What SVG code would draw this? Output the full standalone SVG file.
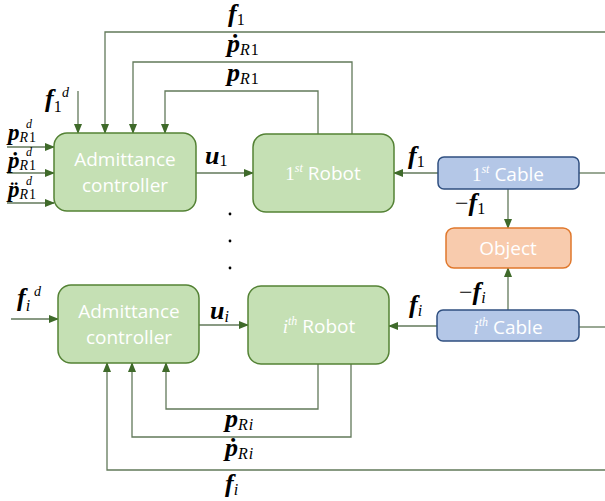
<svg xmlns="http://www.w3.org/2000/svg" width="605" height="501" viewBox="0 0 605 501">
  <style>
    .blk { fill: #c5e0b4; stroke: #548235; stroke-width: 1.5; }
    .cab { fill: #b4c7e7; stroke: #2f4f80; stroke-width: 1.5; }
    .obj { fill: #f8cbad; stroke: #e0782c; stroke-width: 1.5; }
    .lbl { font-family: "Open Sans", "Liberation Sans", sans-serif; font-size: 19px; fill: #ffffff; text-anchor: middle; }
    .ord { font-family: "Liberation Serif", serif; fill: #ffffff; }
    .it { font-style: italic; }
    .wire { fill: none; stroke: #62795a; stroke-width: 1.3; }
    .m { font-family: "Liberation Serif", serif; fill: #000000; }
    .b { font-weight: bold; font-style: italic; font-size: 26px; }
    .mn { font-size: 24px; }
    .s { font-style: italic; font-size: 16px; letter-spacing: 1px; }
    .u { font-style: normal; font-size: 16px; }
    .sup { font-style: italic; font-size: 14px; }
    /* tighter stack for the desired-trajectory inputs */
    .bs { font-weight: bold; font-style: italic; font-size: 23px; }
    .ss { font-style: italic; font-size: 14px; letter-spacing: 1px; }
    .us { font-style: normal; font-size: 14px; }
    .sups { font-style: italic; font-size: 12px; }
  </style>
  <defs>
    <marker id="arr" markerWidth="10" markerHeight="8" refX="9" refY="4" orient="auto" markerUnits="userSpaceOnUse">
      <path d="M0,0 L10,4 L0,8 Z" fill="#3f6a2a"/>
    </marker>
  </defs>

  <!-- connectors -->
  <g id="connectors" class="wire" marker-end="url(#arr)">
    <path d="M78,91 V133"/>
    <path d="M605,32 H105 V133"/>
    <path d="M352,134 V62 H133 V133"/>
    <path d="M318,134 V91 H165 V133"/>
    <path d="M7,147 H54"/>
    <path d="M7,173 H54"/>
    <path d="M7,203 H54"/>
    <path d="M196,173 H253"/>
    <path d="M438,173 H394"/>
    <path d="M579,173 H605" marker-end="none"/>
    <path d="M508,189 V228"/>
    <path d="M508,310 V268"/>
    <path d="M579,327 H605" marker-end="none"/>
    <path d="M437,326 H389"/>
    <path d="M199,325 H248"/>
    <path d="M11,319 H58"/>
    <path d="M318,364 V409 H166 V363"/>
    <path d="M351,364 V437 H132 V363"/>
    <path d="M605,470 H107 V363"/>
  </g>

  <!-- nodes -->
  <g id="admittance1">
    <rect class="blk" x="54" y="133" width="142" height="78" rx="13"/>
    <text class="lbl" x="125" y="166">Admittance</text>
    <text class="lbl" x="125" y="192">controller</text>
  </g>
  <g id="robot1">
    <rect class="blk" x="253" y="134" width="141" height="78" rx="13"/>
    <text class="lbl" x="323" y="180"><tspan class="ord">1<tspan class="it" font-size="12" dy="-8">st</tspan></tspan><tspan dy="8"> Robot</tspan></text>
  </g>
  <g id="cable1">
    <rect class="cab" x="438" y="157" width="141" height="32" rx="6"/>
    <text class="lbl" x="508" y="181"><tspan class="ord">1<tspan class="it" font-size="12" dy="-8">st</tspan></tspan><tspan dy="8"> Cable</tspan></text>
  </g>
  <g id="object">
    <rect class="obj" x="446" y="228" width="125" height="40" rx="8"/>
    <text class="lbl" x="508" y="255">Object</text>
  </g>
  <g id="admittancei">
    <rect class="blk" x="58" y="285" width="141" height="78" rx="13"/>
    <text class="lbl" x="129" y="318">Admittance</text>
    <text class="lbl" x="129" y="344">controller</text>
  </g>
  <g id="roboti">
    <rect class="blk" x="248" y="286" width="141" height="78" rx="13"/>
    <text class="lbl" x="319" y="333"><tspan class="ord it">i<tspan font-size="12" dy="-8">th</tspan></tspan><tspan dy="8"> Robot</tspan></text>
  </g>
  <g id="cablei">
    <rect class="cab" x="437" y="310" width="142" height="31" rx="6"/>
    <text class="lbl" x="508" y="334"><tspan class="ord it">i<tspan font-size="12" dy="-8">th</tspan></tspan><tspan dy="8"> Cable</tspan></text>
  </g>

  <!-- vertical ellipsis between robot rows -->
  <g id="ellipsis" fill="#000000">
    <circle cx="230" cy="214" r="1.4"/>
    <circle cx="230" cy="241" r="1.4"/>
    <circle cx="230" cy="268" r="1.4"/>
  </g>

  <!-- signal labels -->
  <g id="labels" class="m">
    <text x="228" y="22"><tspan class="b">f</tspan><tspan class="u" dy="3">1</tspan></text>
    <text x="227" y="52"><tspan class="b">ṗ</tspan><tspan class="s" dy="3">R</tspan><tspan class="u">1</tspan></text>
    <text x="227" y="81"><tspan class="b">p</tspan><tspan class="s" dy="3">R</tspan><tspan class="u">1</tspan></text>

    <text x="45" y="107"><tspan class="b">f</tspan><tspan class="u" dy="5">1</tspan></text>
    <text class="sup" x="62" y="97">d</text>

    <text x="8" y="140"><tspan class="bs">p</tspan><tspan class="ss" dy="2">R</tspan><tspan class="us">1</tspan></text>
    <text class="sups" x="26" y="128">d</text>
    <text x="8" y="168"><tspan class="bs">ṗ</tspan><tspan class="ss" dy="2">R</tspan><tspan class="us">1</tspan></text>
    <text class="sups" x="26" y="156">d</text>
    <text x="8" y="197"><tspan class="bs">p̈</tspan><tspan class="ss" dy="2">R</tspan><tspan class="us">1</tspan></text>
    <text class="sups" x="26" y="185">d</text>

    <text x="205" y="164"><tspan class="b">u</tspan><tspan class="u" dy="2">1</tspan></text>
    <text x="408" y="164"><tspan class="b">f</tspan><tspan class="u" dy="3">1</tspan></text>
    <text x="455" y="211"><tspan class="mn">−</tspan><tspan class="b">f</tspan><tspan class="u" dy="3">1</tspan></text>
    <text x="459" y="300"><tspan class="mn">−</tspan><tspan class="b">f</tspan><tspan class="s" dy="3">i</tspan></text>
    <text x="409" y="313"><tspan class="b">f</tspan><tspan class="s" dy="3">i</tspan></text>

    <text x="17" y="306"><tspan class="b">f</tspan><tspan class="s" dy="5">i</tspan></text>
    <text class="sup" x="34" y="296">d</text>
    <text x="210" y="319"><tspan class="b">u</tspan><tspan class="s" dy="3">i</tspan></text>

    <text x="225" y="427"><tspan class="b">p</tspan><tspan class="s" dy="3">Ri</tspan></text>
    <text x="225" y="456"><tspan class="b">ṗ</tspan><tspan class="s" dy="3">Ri</tspan></text>
    <text x="225" y="492"><tspan class="b">f</tspan><tspan class="s" dy="3">i</tspan></text>
  </g>
</svg>
